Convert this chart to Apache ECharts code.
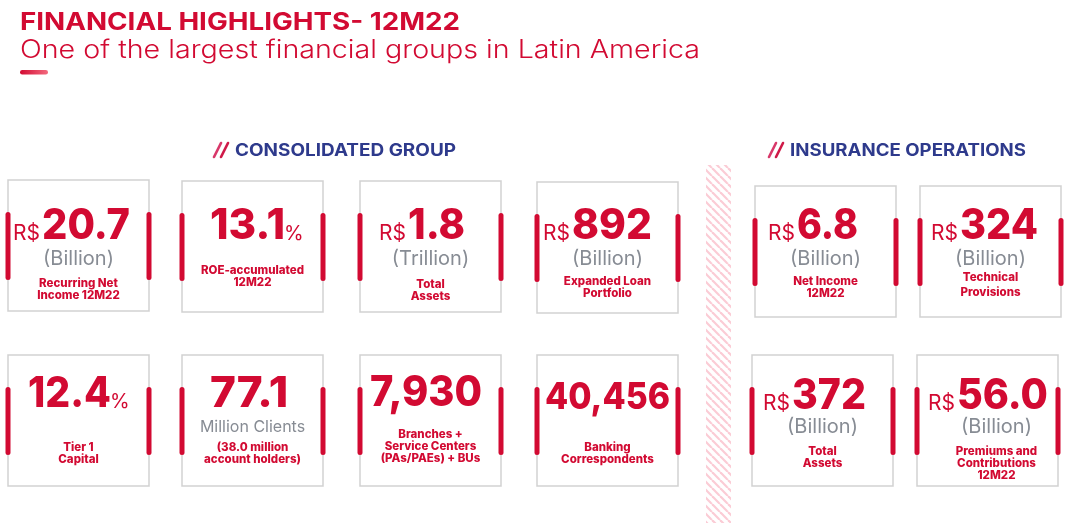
<!DOCTYPE html>
<html>
<head>
<meta charset="utf-8">
<title>Financial Highlights 12M22</title>
<script src="https://cdn.jsdelivr.net/npm/echarts@6/dist/echarts.min.js"></script>
<style>
  html, body { margin: 0; padding: 0; background: #fff; }
  #main { width: 1077px; height: 523px; }
</style>
</head>
<body>
<div id="main"></div>
<script>
// ---- data ----
var title = 'FINANCIAL HIGHLIGHTS- 12M22';
var subtitle = 'One of the largest financial groups in Latin America';
var groups = ['CONSOLIDATED GROUP', 'INSURANCE OPERATIONS'];

var prefixes = ['R$', '', 'R$', 'R$', '', '', '', '', 'R$', 'R$', 'R$', 'R$'];
var values = ['20.7', '13.1', '1.8', '892', '12.4', '77.1', '7,930', '40,456', '6.8', '324', '372', '56.0'];
var suffixes = ['', '%', '', '', '%', '', '', '', '', '', '', ''];
var units = ['(Billion)', '', '(Trillion)', '(Billion)', '', 'Million Clients', '', '', '(Billion)', '(Billion)', '(Billion)', '(Billion)'];
var labels = [
    ['Recurring Net', 'Income 12M22'],
    ['ROE-accumulated', '12M22'],
    ['Total', 'Assets'],
    ['Expanded Loan', 'Portfolio'],
    ['Tier 1', 'Capital'],
    ['(38.0 million', 'account holders)'],
    ['Branches +', 'Service Centers', '(PAs/PAEs) + BUs'],
    ['Banking', 'Correspondents'],
    ['Net Income', '12M22'],
    ['Technical', 'Provisions'],
    ['Total', 'Assets'],
    ['Premiums and', 'Contributions', '12M22']
];

// ---- layout: box left/top, number left/width, baselines ----
var layout = [
    { x: 8,   y: 180, nx: 42,  nw: 88,  num: 240, unit: 265, lab: 287 },
    { x: 182, y: 181, nx: 210, nw: 75,  num: 240, unit: 0,   lab: 274 },
    { x: 360, y: 181, nx: 408, nw: 57,  num: 240, unit: 265, lab: 288 },
    { x: 537, y: 182, nx: 572, nw: 80,  num: 240, unit: 265, lab: 285 },
    { x: 8,   y: 355, nx: 28,  nw: 83,  num: 408, unit: 0,   lab: 451 },
    { x: 182, y: 355, nx: 210, nw: 81,  num: 408, unit: 432, lab: 451 },
    { x: 360, y: 355, nx: 370, nw: 112, num: 407, unit: 0,   lab: 438 },
    { x: 537, y: 355, nx: 545, nw: 125, num: 410, unit: 0,   lab: 451, size: 37 },
    { x: 755, y: 186, nx: 797, nw: 61,  num: 240, unit: 265, lab: 285 },
    { x: 920, y: 186, nx: 960, nw: 78,  num: 240, unit: 265, lab: 281, lh: 15 },
    { x: 752, y: 355, nx: 792, nw: 74,  num: 410, unit: 433, lab: 455 },
    { x: 917, y: 355, nx: 957, nw: 91,  num: 410, unit: 433, lab: 455, shift: 9 }
];

var RED = '#d20a32';
var NAVY = '#2e3a8c';
var GRAY = '#878c94';
var BORDER = '#d2d2d2';
var FONT = 'Inter';

var measure = document.createElement('canvas').getContext('2d');
function textWidth(str, font) {
    measure.font = font;
    return measure.measureText(str).width;
}

// text placed so that its alphabetic baseline sits on y
function txt(str, x, y, size, weight, color, align, extra) {
    var el = {
        type: 'text',
        x: x,
        y: y - size * 0.32,
        style: {
            text: str,
            fontFamily: FONT,
            fontSize: size,
            fontWeight: weight,
            fill: color,
            align: align || 'left',
            verticalAlign: 'middle'
        }
    };
    if (extra) {
        for (var k in extra) el[k] = extra[k];
    }
    return el;
}

function fitText(str, x, y, size, weight, color, target) {
    var w = textWidth(str, weight + ' ' + size + 'px ' + FONT);
    return txt(str, x, y, size, weight, color, 'left', { scaleX: target / w });
}

var elements = [];

// title block
elements.push(fitText(title, 20, 30, 24, 'bold', RED, 440));
elements.push(fitText(subtitle, 20, 58, 25, 300, RED, 680));
elements.push({
    type: 'rect',
    shape: { x: 20, y: 70, width: 28, height: 4.5, r: 2.2 },
    style: {
        fill: new echarts.graphic.LinearGradient(0, 0, 1, 0, [
            { offset: 0, color: RED }, { offset: 1, color: '#f36a7e' }
        ])
    }
});

// section headers with double slash
function header(str, x, target) {
    elements.push({
        type: 'polyline', shape: { points: [[x, 157], [x + 7, 143]] },
        style: { stroke: '#d8386a', lineWidth: 2.6, lineCap: 'round' }
    });
    elements.push({
        type: 'polyline', shape: { points: [[x + 7, 157], [x + 14, 143]] },
        style: { stroke: '#cf1a48', lineWidth: 2.6, lineCap: 'round' }
    });
    elements.push(fitText(str, x + 21, 156, 17, 'bold', NAVY, target));
}
header(groups[0], 214, 221);
header(groups[1], 769, 236);

// hatched separator
var pc = document.createElement('canvas');
pc.width = 8; pc.height = 8;
var pctx = pc.getContext('2d');
pctx.strokeStyle = '#fbccd5';
pctx.lineWidth = 2.2;
[-8, 0, 8].forEach(function (o) {
    pctx.beginPath();
    pctx.moveTo(o, 0);
    pctx.lineTo(o + 8, 8);
    pctx.stroke();
});
elements.push({
    type: 'rect',
    shape: { x: 706, y: 165, width: 25, height: 358 },
    style: { fill: { image: pc, repeat: 'repeat' } }
});

// cards
values.forEach(function (val, i) {
    var L = layout[i];
    var bw = 141, bh = 131;
    var cx = L.x + bw / 2 + (L.shift || 0);
    var ns = L.size || 42;
    var ps = 21;

    elements.push({
        type: 'rect',
        shape: { x: L.x, y: L.y, width: bw, height: bh },
        style: { fill: null, stroke: BORDER, lineWidth: 1.5 }
    });
    [L.x, L.x + bw].forEach(function (bx) {
        elements.push({
            type: 'rect',
            shape: { x: bx - 2.5, y: L.y + 32, width: 5, height: 68, r: 2.5 },
            style: { fill: RED }
        });
    });

    // big number, squeezed to the measured width, with prefix / suffix
    var vw = textWidth(val, '800 ' + ns + 'px ' + FONT);
    var sx = Math.min(1.05, L.nw / vw);
    elements.push(txt(val, L.nx, L.num, ns, 800, RED, 'left', { scaleX: sx }));
    if (prefixes[i]) {
        elements.push(txt(prefixes[i], L.nx - 2, L.num, ps, 400, RED, 'right'));
    }
    if (suffixes[i]) {
        elements.push(txt(suffixes[i], L.nx + vw * sx - 1, L.num, ps - 1, 400, RED));
    }

    if (units[i]) {
        var us = units[i].charAt(0) === '(' ? 20 : 16;
        elements.push(txt(units[i], cx, L.unit, us, 400, GRAY, 'center'));
    }

    var lh = L.lh || 12.3;
    labels[i].forEach(function (line, j) {
        elements.push(txt(line, cx, L.lab + j * lh, 11.5, 800, RED, 'center'));
    });
});

var myChart = echarts.init(document.getElementById('main'));
myChart.setOption({
    backgroundColor: '#fff',
    animation: false,
    graphic: elements
});
</script>
</body>
</html>
